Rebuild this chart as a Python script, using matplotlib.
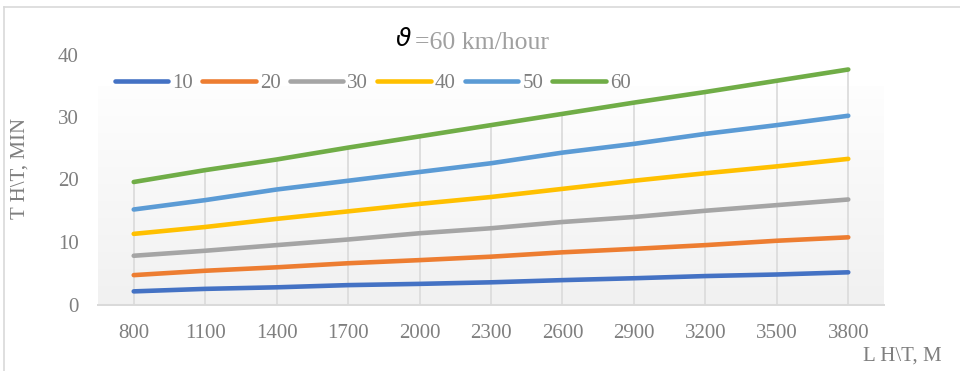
import matplotlib.pyplot as plt
import numpy as np

plt.rcParams['font.family'] = ['Liberation Serif', 'DejaVu Serif']

# route length categories and travel time per speed series
lengths = ['800', '1100', '1400', '1700', '2000', '2300', '2600', '2900', '3200', '3500', '3800']
series_names = ['10', '20', '30', '40', '50', '60']
t10 = [2.1, 2.5, 2.75, 3.1, 3.3, 3.55, 3.9, 4.2, 4.55, 4.8, 5.15]
t20 = [4.7, 5.4, 5.95, 6.6, 7.1, 7.65, 8.35, 8.9, 9.5, 10.2, 10.75]
t30 = [7.8, 8.6, 9.5, 10.4, 11.4, 12.2, 13.2, 14.0, 15.0, 15.9, 16.8]
t40 = [11.3, 12.4, 13.7, 14.9, 16.1, 17.2, 18.5, 19.8, 21.0, 22.1, 23.3]
t50 = [15.2, 16.7, 18.4, 19.8, 21.2, 22.6, 24.3, 25.7, 27.3, 28.7, 30.2]
t60 = [19.6, 21.5, 23.2, 25.1, 26.9, 28.7, 30.5, 32.3, 34.0, 35.8, 37.6]
all_series = [t10, t20, t30, t40, t50, t60]
colors = ['#4472C4', '#ED7D31', '#A5A5A5', '#FFC000', '#5B9BD5', '#70AD47']

W, H = 960, 371
fig = plt.figure(figsize=(W / 100, H / 100), dpi=100)
fig.patch.set_facecolor('white')

# axes placed by pixel box: x 98..884, y 54.5..304.5
ax = fig.add_axes([98 / W, (H - 304.5) / H, 786 / W, 250 / H])
ax.set_facecolor('none')
x = np.arange(len(lengths))
ax.set_xlim(-0.5, len(lengths) - 0.5)
ax.set_ylim(0, 40)

# plot area gradient fill (white at top to light grey at bottom)
grad = np.linspace(0, 1, 256).reshape(-1, 1)
top = np.array([0.995, 0.995, 0.995])
bot = np.array([0.945, 0.945, 0.945])
img = top + (bot - top) * grad
img = np.repeat(img[:, None, :], 2, axis=1)
ax.imshow(img, extent=[-0.5, len(lengths) - 0.5, 0, 34.8], aspect='auto',
          origin='upper', zorder=0)

# drop lines from the highest series down to the axis
top_vals = np.max(np.array(all_series), axis=0)
ax.vlines(x, 0, top_vals, color='#dcdcdc', lw=1.3, zorder=1)

for name, vals, c in zip(series_names, all_series, colors):
    ax.plot(x, vals, color=c, lw=3.3, solid_capstyle='round', label=name, zorder=3)

for s in ['top', 'right', 'left']:
    ax.spines[s].set_visible(False)
ax.spines['bottom'].set_color('#d9d9d9')
ax.spines['bottom'].set_linewidth(1.4)
ax.spines['bottom'].set_zorder(2)

fs = 15
ax.set_xticks(x)
ax.set_xticklabels(lengths)
ax.set_yticks([0, 10, 20, 30, 40])
ax.tick_params(axis='both', length=0, colors='#7f7f7f', labelsize=fs)
ax.tick_params(axis='x', pad=14)
ax.tick_params(axis='y', pad=14)

ax.set_ylabel('T H\\T, MIN', fontsize=fs, color='#7f7f7f')
ax.yaxis.set_label_coords(-68 / 786, (304.5 - 168) / 250)

fig.text(942 / W, 1 - 356 / H, 'L H\\T, M', fontsize=fs, color='#7f7f7f',
         ha='right', va='center')

# title: script theta followed by the speed
fig.text(412 / W, 1 - 40 / H, r'$\vartheta$', fontsize=18, color='black',
         ha='right', va='center', family='DejaVu Serif')
fig.text(415 / W, 1 - 43 / H, '=60 km/hour', fontsize=18.5, color='#a0a0a0',
         ha='left', va='center')

leg = ax.legend(ncol=6, loc='center left', bbox_to_anchor=(115 / W, 1 - 83 / H),
                bbox_transform=fig.transFigure, frameon=False, fontsize=fs,
                handlelength=2.55, handletextpad=0.2, columnspacing=0.45,
                borderaxespad=0, borderpad=0)
for t in leg.get_texts():
    t.set_color('#7f7f7f')

# outer chart border (top and left edges visible)
fig.add_artist(plt.Line2D([4 / W, 1], [1 - 7 / H, 1 - 7 / H], color='#d9d9d9', lw=1.2))
fig.add_artist(plt.Line2D([4 / W, 4 / W], [0, 1 - 7 / H], color='#d9d9d9', lw=1.2))

fig.savefig('out.png', dpi=100)
